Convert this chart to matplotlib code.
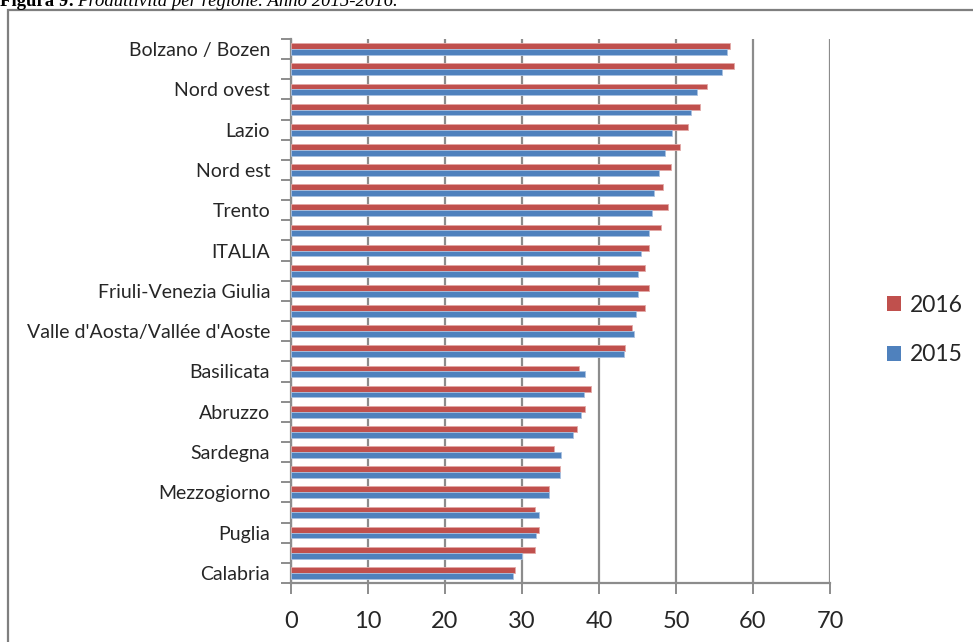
import matplotlib
matplotlib.use('Agg')
import matplotlib.pyplot as plt
from matplotlib.patches import Patch, Rectangle
import numpy as np

# categorie (dall'alto verso il basso); le righe intermedie non hanno etichetta
categorie = ['Bolzano / Bozen', '', 'Nord ovest', '', 'Lazio', '', 'Nord est', '',
             'Trento', '', 'ITALIA', '', 'Friuli-Venezia Giulia', '',
             "Valle d'Aosta/Vallée d'Aoste", '', 'Basilicata', '', 'Abruzzo', '',
             'Sardegna', '', 'Mezzogiorno', '', 'Puglia', '', 'Calabria']

prod_2016 = [57.0, 57.5, 54.0, 53.1, 51.5, 50.5, 49.3, 48.3, 48.9, 48.1,
             46.5, 46.0, 46.5, 46.0, 44.3, 43.4, 37.4, 38.9, 38.2, 37.2,
             34.1, 34.9, 33.5, 31.7, 32.2, 31.7, 29.1]
prod_2015 = [56.6, 56.0, 52.7, 51.9, 49.5, 48.6, 47.8, 47.1, 46.9, 46.5,
             45.5, 45.1, 45.0, 44.8, 44.6, 43.2, 38.2, 38.0, 37.6, 36.6,
             35.1, 34.9, 33.5, 32.2, 31.8, 30.0, 28.8]

anni = ['2016', '2015']
colori = ['#C0504D', '#4F81BD']
GRIGIO = '#8C8C8C'
TESTO = '#262626'
FONT = ['Lato', 'DejaVu Sans']

plt.rcParams['font.family'] = FONT

fig = plt.figure(figsize=(9.73, 6.42), dpi=100)
ax = fig.add_axes([291 / 973, 59 / 642, 539 / 973, 544 / 642])

y = np.arange(len(categorie))
h = 0.29
ax.barh(y - h / 2, prod_2016, height=h, color=colori[0],
        edgecolor='#E3A9A7', linewidth=0.6, zorder=3)
ax.barh(y + h / 2, prod_2015, height=h, color=colori[1],
        edgecolor='#A9C1E0', linewidth=0.6, zorder=3)

ax.set_xlim(0, 70)
ax.set_ylim(len(categorie) - 0.5, -0.5)

# tacche sui bordi delle categorie, etichette al centro
ax.set_yticks(np.arange(len(categorie) + 1) - 0.5)
ax.set_yticklabels([])
ax.set_yticks(y, minor=True)
ax.set_yticklabels(categorie, minor=True, fontsize=14, color=TESTO)
ax.tick_params(axis='y', which='major', length=7, width=1.4, color=GRIGIO)
ax.tick_params(axis='y', which='minor', length=0, pad=15)

ax.set_xticks(np.arange(0, 71, 10))
ax.tick_params(axis='x', length=8, width=1.4, color=GRIGIO,
               labelsize=17, labelcolor=TESTO, pad=12)

ax.grid(axis='x', color=GRIGIO, linewidth=1.6, zorder=0)
for lato in ('top', 'right'):
    ax.spines[lato].set_visible(False)
for lato in ('left', 'bottom'):
    ax.spines[lato].set_color(GRIGIO)
    ax.spines[lato].set_linewidth(1.6)

handles = [Patch(facecolor=c, edgecolor='none') for c in colori]
fig.legend(handles, anni, loc='center left',
           bbox_to_anchor=(866 / 973, 1 - 330 / 642), frameon=False,
           fontsize=16.5, handlelength=0.62, handleheight=0.62,
           handletextpad=0.4, labelspacing=1.25, labelcolor=TESTO)

# cornice del grafico
fig.patches.append(Rectangle((8 / 973, -0.1), 1.1, 1 - 10 / 642 + 0.1,
                             transform=fig.transFigure, fill=False,
                             edgecolor='#7F7F7F', linewidth=1.6))

# didascalia (tagliata in alto)
t = fig.text(0.0, 1 - 6 / 642, 'Figura 9:', fontsize=13.5, fontweight='bold',
             family=['Liberation Serif'], va='baseline', ha='left', color='black')
fig.canvas.draw()
bb = t.get_window_extent()
fig.text((bb.x1 + 3) / 973, 1 - 6 / 642,
         'Produttività per regione. Anno 2015-2016.', fontsize=13.5,
         style='italic', family=['Liberation Serif'], va='baseline',
         ha='left', color='black')

fig.savefig('out.png', dpi=100)
